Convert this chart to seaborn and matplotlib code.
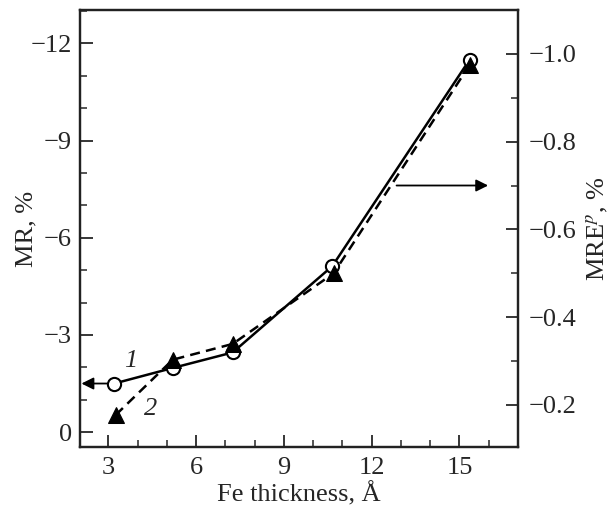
import matplotlib
matplotlib.use("Agg")
import matplotlib.pyplot as plt
import seaborn as sns
import pandas as pd
from matplotlib.ticker import MultipleLocator

# Data
thickness_mr = [3.2, 5.2, 7.25, 10.65, 15.35]
mr_values = [-1.5, -1.98, -2.46, -5.12, -11.5]
thickness_mre = [3.25, 5.2, 7.25, 10.7, 15.35]
mre_values = [-0.177, -0.303, -0.339, -0.50, -0.975]

sns.set_style("ticks")
plt.rcParams["font.family"] = ["Liberation Serif", "DejaVu Serif"]
plt.rcParams["mathtext.fontset"] = "stix"
plt.rcParams["font.size"] = 19

FS = 19

df1 = pd.DataFrame({"x": thickness_mr, "y": mr_values})
df2 = pd.DataFrame({"x": thickness_mre, "y": mre_values})

fig = plt.figure(figsize=(6.13, 5.15), dpi=100)
ax = fig.add_axes([0.1305, 0.132, 0.7145, 0.8486])
ax2 = ax.twinx()

sns.lineplot(data=df1, x="x", y="y", ax=ax, color="black", lw=1.8,
             marker="o", markersize=9.5, markerfacecolor="white",
             markeredgecolor="black", markeredgewidth=1.5, zorder=3)
sns.lineplot(data=df2, x="x", y="y", ax=ax2, color="black", lw=1.8,
             linestyle=(0, (4, 2.5)), marker="^", markersize=11,
             markerfacecolor="black", markeredgecolor="black", zorder=4)

ax.set_xlim(2.03, 17.0)
ax.set_ylim(0.46, -13.03)
ax2.set_ylim(-0.104, -1.1)

ax.xaxis.set_major_locator(MultipleLocator(3))
ax.xaxis.set_minor_locator(MultipleLocator(1))
ax.yaxis.set_major_locator(MultipleLocator(3))
ax.yaxis.set_minor_locator(MultipleLocator(1))
ax2.yaxis.set_major_locator(MultipleLocator(0.2))
ax2.yaxis.set_minor_locator(MultipleLocator(0.1))
ax2.yaxis.set_major_formatter(matplotlib.ticker.FuncFormatter(
    lambda v, p: ("%.1f" % v).replace("-", "\u2212")))

for a in (ax, ax2):
    a.tick_params(which="major", direction="in", length=9, width=1.3, labelsize=FS)
    a.tick_params(which="minor", direction="in", length=5, width=1.1)
    for s in a.spines.values():
        s.set_linewidth(1.6)
        s.set_color("#222222")
ax.tick_params(axis="x", which="both", top=False)
ax.tick_params(axis="y", which="both", right=False)
ax2.tick_params(axis="y", which="major", pad=8)
ax.tick_params(axis="y", which="major", pad=6)
ax.tick_params(axis="x", which="major", pad=7)

ax.set_xlabel("Fe thickness, \u00c5", fontsize=FS, labelpad=2)
ax.set_ylabel("MR, %", fontsize=FS, labelpad=-5)
ax2.set_ylabel("MRE$^{p}$, %", fontsize=FS, labelpad=6)

# Arrows and curve labels
ax.annotate("", xy=(2.08, -1.5), xytext=(2.95, -1.5),
            arrowprops=dict(arrowstyle="-|>", color="black", lw=1.3,
                            mutation_scale=18, shrinkA=0, shrinkB=0))
ax2.annotate("", xy=(15.98, -0.7), xytext=(12.85, -0.7),
             arrowprops=dict(arrowstyle="-|>", color="black", lw=1.3,
                             mutation_scale=18, shrinkA=0, shrinkB=0))
ax.text(3.75, -2.2, "1", fontsize=FS, style="italic", ha="center", va="center")
ax.text(4.45, -0.7, "2", fontsize=FS, style="italic", ha="center", va="center")

fig.savefig("out.png", dpi=100)
